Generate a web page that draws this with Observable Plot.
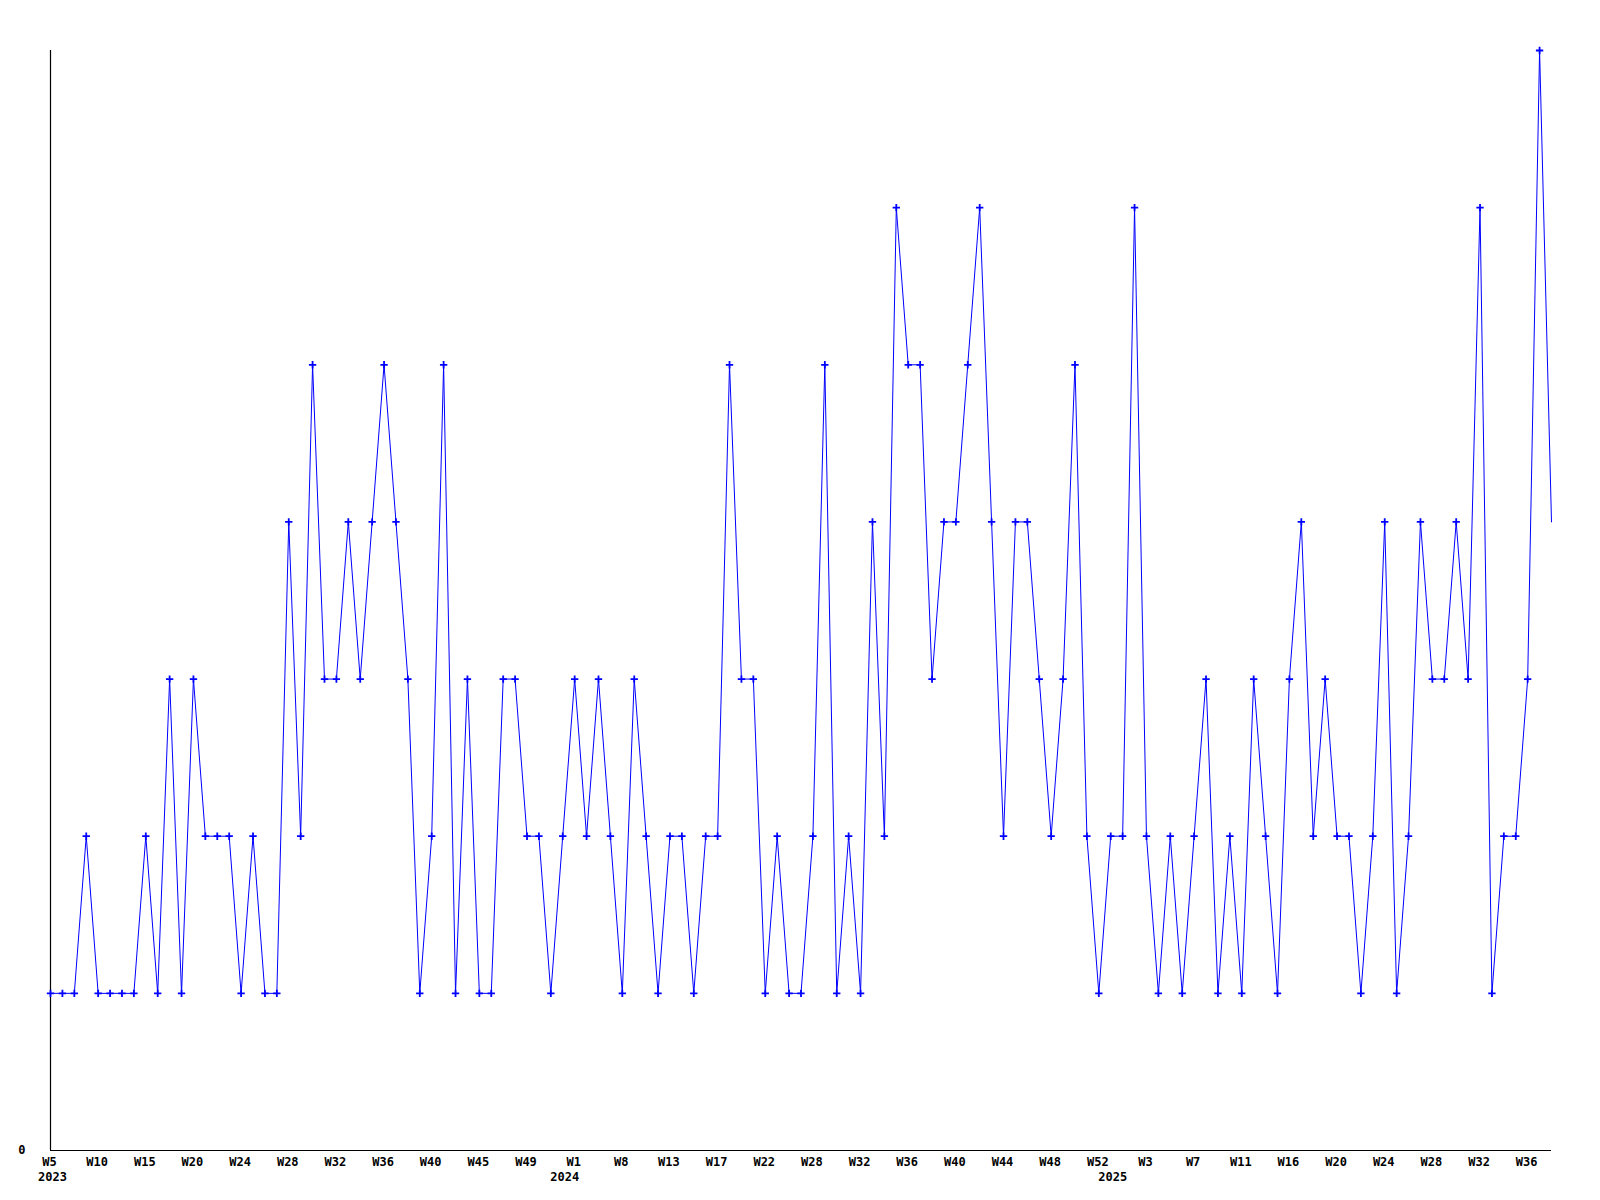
<!DOCTYPE html>
<html>
<head>
<meta charset="utf-8">
<script src="https://cdn.jsdelivr.net/npm/d3@7"></script>
<script src="https://cdn.jsdelivr.net/npm/@observablehq/plot@0.6"></script>
<style>
  html, body { margin: 0; padding: 0; background: #fff; }
  #chart { width: 1600px; height: 1200px; }
</style>
</head>
<body>
<div id="chart"></div>
<script>
// Weekly counts, one per data point (ordinal order as plotted)
const values = [
  1,1,1,2,1,1,1,1,2,1,3,1,3,2,2,2,1,2,1,1,
  4,2,5,3,3,4,3,4,5,4,3,1,2,5,1,3,1,1,3,3,
  2,2,1,2,3,2,3,2,1,3,2,1,2,2,1,2,2,5,3,3,
  1,2,1,1,2,5,1,2,1,4,2,6,5,5,3,4,4,5,6,4,
  2,4,4,3,2,3,5,2,1,2,2,6,2,1,2,1,2,3,1,2,
  1,3,2,1,3,4,2,3,2,2,1,2,4,1,2,4,3,3,4,3,
  6,1,2,2,3,7,4
];

// Tick labels shown every 4th data point
const tickLabels = [
  "W5","W10","W15","W20","W24","W28","W32","W36","W40","W45","W49",
  "W1","W8","W13","W17","W22","W28","W32","W36","W40","W44","W48","W52",
  "W3","W7","W11","W16","W20","W24","W28","W32","W36"
];
const tickStep = 4;

// Year labels and where each year starts along the series
const yearLabels = ["2023", "2024", "2025"];
const yearStarts = [0, 43, 89];

const data = values.map((v, i) => ({i, v}));
const years = yearLabels.map((label, k) => ({label, i: yearStarts[k]}));
const tickIdx = tickLabels.map((_, k) => k * tickStep);
const lastIdx = values.length - 1;

const chart = Plot.plot({
  width: 1600,
  height: 1200,
  marginLeft: 50,
  marginRight: 49,
  marginTop: 50,
  marginBottom: 50,
  style: {
    fontFamily: "'DejaVu Sans Mono', monospace",
    fontWeight: "bold",
    fontSize: "12px",
    color: "#000",
    background: "#fff"
  },
  x: {domain: [0, lastIdx], axis: null, label: null},
  y: {domain: [0, 7], axis: null, label: null},
  marks: [
    Plot.axisX({
      ticks: tickIdx,
      tickSize: 0,
      tickPadding: 7,
      label: null,
      tickFormat: (d) => tickLabels[d / tickStep],
      fill: "#000",
      dx: -1
    }),
    Plot.axisY({
      ticks: [0],
      tickSize: 0,
      tickPadding: 25,
      label: null,
      tickFormat: (d) => String(d),
      fill: "#000"
    }),
    Plot.ruleY([0], {stroke: "#000", strokeWidth: 1.2}),
    Plot.ruleX([0], {stroke: "#000", strokeWidth: 1.2}),
    Plot.line(data, {x: "i", y: "v", stroke: "#0000ff", strokeWidth: 1, strokeLinejoin: "miter"}),
    Plot.dot(data.filter((d) => d.i < lastIdx), {
      x: "i", y: "v", symbol: "plus", r: 2.5, stroke: "#0000ff", strokeWidth: 1.8
    }),
    Plot.text(years, {
      x: "i", y: () => 0, text: "label", dy: 27, dx: 2,
      fill: "#000", fontWeight: "bold", fontSize: 12, lineAnchor: "middle"
    })
  ]
});

document.getElementById("chart").appendChild(chart);
</script>
</body>
</html>
